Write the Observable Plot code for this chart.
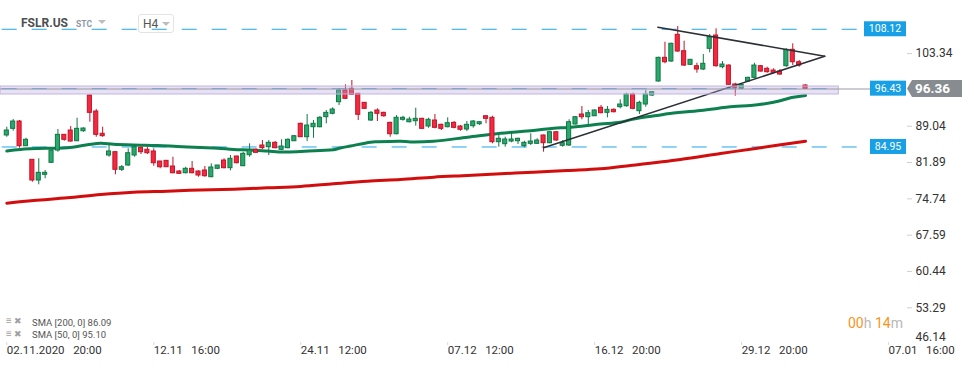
<!DOCTYPE html>
<html><head><meta charset="utf-8">
<script src="https://cdn.jsdelivr.net/npm/d3@7"></script>
<script src="https://cdn.jsdelivr.net/npm/@observablehq/plot@0.6"></script>
<style>
body{margin:0;background:#fff;font-family:Roboto,"Noto Sans",sans-serif;}
#wrap{position:relative;width:974px;height:368px;overflow:hidden;background:#fff;}
#chart svg{display:block;}
.ov{position:absolute;white-space:pre;line-height:1;}
.tri{position:absolute;width:0;height:0;border-left:4px solid transparent;border-right:4px solid transparent;border-top:4px solid #bdbdbd;}
</style></head><body>
<div id="wrap">
<div id="chart"></div>
<div class="ov" style="left:21px;top:17px;font-size:12px;font-weight:700;color:#4d4f52">FSLR.US</div>
<div class="ov" style="left:76px;top:19.5px;font-size:8.5px;font-weight:700;color:#8c98a4">STC</div>
<div class="tri" style="left:98px;top:20px"></div>
<div style="position:absolute;left:138px;top:14px;width:34px;height:17px;border:1px solid #e3e3e3;border-radius:3px;"></div>
<div class="ov" style="left:143px;top:17.5px;font-size:12px;color:#555">H4</div>
<div class="tri" style="left:162px;top:22px"></div>
<div class="ov" style="left:6px;top:316px;font-size:10px;color:#a0a0a0">≡ <span style="font-size:9px">✖</span></div>
<div class="ov" style="left:32px;top:317.5px;font-size:9.5px;color:#555">SMA [200, 0] 86.09</div>
<div class="ov" style="left:6px;top:329px;font-size:10px;color:#a0a0a0">≡ <span style="font-size:9px">✖</span></div>
<div class="ov" style="left:32px;top:330px;font-size:9.5px;color:#555">SMA [50, 0] 95.10</div>
<div class="ov" style="left:848px;top:316px;font-size:14px;"><span style="color:#f7941d">00</span><span style="color:#b8b8b8">h </span><span style="color:#f7941d">14</span><span style="color:#b8b8b8">m</span></div>
</div>
<script>
// ---- data ----
const candleOpen = [87.21,88.52,89.96,85.10,82.42,78.35,79.47,81.83,84.25,87.34,
88.19,86.08,88.05,95.08,91.93,87.54,83.27,83.92,80.45,81.30,
83.27,84.78,84.39,84.06,82.09,82.22,81.10,80.12,79.78,80.65,
80.12,80.32,79.00,80.65,82.28,80.77,83.07,81.16,83.33,84.39,
85.24,84.90,85.77,84.39,84.71,86.08,89.51,86.87,88.84,88.84,
90.81,91.48,93.76,96.06,96.40,95.41,93.64,90.16,92.13,91.67,
89.70,87.46,90.30,89.82,90.02,90.49,88.98,90.16,89.31,88.84,
89.70,88.98,88.39,89.04,89.43,91.00,90.69,85.89,85.49,86.02,
86.08,85.10,85.57,85.57,87.21,85.69,87.85,85.18,85.24,89.37,
91.34,90.81,91.00,92.66,91.67,92.26,92.78,92.97,95.28,91.99,
93.31,95.08,97.84,102.50,101.77,107.03,103.80,101.12,100.85,100.20,
104.27,106.89,100.65,100.98,97.25,96.40,97.84,98.56,100.85,100.34,
100.00,99.80,100.85,104.08,101.63,97.05];
const candleHigh = [88.84,90.35,90.16,86.67,82.48,82.62,80.32,84.39,88.39,87.40,
88.98,90.61,88.72,95.20,92.32,88.84,85.24,84.06,81.30,84.59,
85.24,84.90,84.90,84.59,82.09,82.28,82.93,80.32,80.96,82.09,
80.26,81.10,81.63,81.30,82.62,83.27,83.13,83.92,85.57,84.59,
86.22,86.22,86.02,86.36,86.56,87.21,89.63,91.34,90.16,90.95,
92.13,92.66,96.40,97.19,98.03,95.50,93.70,91.93,92.46,91.79,
89.82,91.14,91.00,90.81,92.58,90.61,90.61,91.34,89.43,90.69,
89.96,89.17,89.96,90.16,89.96,91.14,91.00,87.21,86.87,87.85,
86.67,86.08,87.54,86.56,87.30,88.05,87.99,86.22,90.30,90.95,
92.91,92.13,92.26,93.11,92.91,92.46,94.23,95.53,95.53,93.96,
96.06,95.87,102.62,105.57,105.37,108.66,105.77,102.17,101.44,103.15,
107.09,108.21,101.77,101.12,97.50,97.38,98.68,101.44,100.98,100.65,
100.34,100.20,104.27,105.26,101.97,97.20];
const candleLow = [86.87,88.05,84.71,85.04,78.01,77.50,78.68,81.75,83.92,86.08,
85.89,86.02,87.86,89.82,86.87,86.87,82.93,79.47,80.12,81.16,
82.93,83.47,83.47,81.16,80.65,80.91,79.66,79.53,79.66,79.66,
79.00,79.00,78.88,80.51,80.65,80.26,81.63,81.10,82.93,83.72,
84.45,83.27,84.59,84.25,84.59,86.02,86.81,86.02,86.67,88.72,
89.51,91.28,93.11,94.29,95.08,90.16,92.32,89.96,89.96,90.81,
86.87,87.34,90.02,89.70,89.04,88.39,88.64,88.52,88.19,88.72,
88.52,88.05,88.00,88.64,89.17,89.51,85.57,84.90,84.90,85.77,
85.44,84.78,85.24,85.44,83.92,85.57,86.08,84.90,85.04,89.31,
90.30,89.37,90.95,91.48,90.69,91.67,92.46,92.78,92.26,91.34,
92.78,94.88,97.70,101.32,101.63,103.60,100.79,100.98,99.47,100.00,
103.49,100.65,100.34,97.05,94.94,96.20,97.70,98.37,99.67,99.47,
99.35,99.08,100.65,100.98,100.65,96.30];
const candleClose = [88.19,89.96,85.10,86.36,78.35,79.86,79.86,84.25,87.34,86.36,
86.02,88.52,88.58,91.67,87.34,87.07,84.06,80.45,80.96,83.72,
84.90,83.92,83.72,81.75,80.96,80.96,79.78,79.66,80.65,79.78,
79.33,79.19,80.91,81.30,80.77,82.62,81.75,83.60,84.25,83.80,
84.71,85.77,84.71,85.04,86.36,87.07,86.87,89.17,89.51,90.69,
91.67,92.32,96.06,94.43,95.22,91.28,92.46,91.67,91.48,91.00,
87.46,90.69,90.69,90.35,90.49,88.52,90.30,88.72,88.52,89.63,
88.72,88.33,89.31,89.96,89.82,90.49,85.89,86.56,86.42,86.42,
86.56,85.77,86.02,86.22,85.69,87.85,86.22,85.69,89.82,90.81,
90.81,91.60,92.13,91.60,92.26,91.79,93.31,95.28,92.46,93.64,
95.28,95.73,102.50,101.63,105.26,103.74,100.98,102.11,100.20,101.32,
106.56,100.85,101.18,97.19,96.60,97.19,98.56,100.98,99.80,99.67,
99.55,99.21,104.08,101.63,100.98,96.36];

const sma50Idx = [0,2.1,6.8,9.5,12.6,14.7,16.7,19.8,23.6,26.7,30.3,33.0,35.5,38.1,40.8,43.3,46.0,49.1,51.1,52.2,53.8,56.9,58.0,61.6,63.2,66.8,72.1,77.3,82.4,85.6,87.7,90.9,92.9,96.0,98.1,102.3,103.4,108.6,113.7,116.4,120.0,123.1,125];
const sma50Val = [84.15,84.45,84.70,84.78,85.37,85.69,85.49,85.34,85.24,85.04,84.84,84.70,84.45,84.35,84.15,83.96,84.06,84.25,84.39,84.74,85.14,85.89,85.97,86.08,85.93,86.08,86.87,87.66,88.19,88.64,88.78,89.17,89.47,89.82,90.45,91.24,91.48,92.13,92.91,93.11,93.76,94.74,95.10];
const sma200Idx = [0,4.2,9.5,14.7,19.8,25.1,30.3,35.5,40.8,46.0,51.1,56.4,61.6,66.8,72.1,77.3,82.4,87.7,92.9,97.6,105.4,111.7,117.2,125];
const sma200Val = [73.88,74.41,74.94,75.59,76.04,76.24,76.48,76.64,76.91,77.17,77.70,78.21,78.54,79.00,79.33,79.67,79.98,80.32,80.65,81.30,82.48,83.66,84.65,86.09];

const levelValues = [108.12, 96.43, 84.95];
const levelEndIdx = [133.3, 130.2, 133.3];
const zoneLow = [95.28], zoneHigh = [96.85], zoneEndIdx = [130.2];
const lastPrice = [96.36];
const trendUpperIdx = [101.9, 128.0], trendUpperVal = [108.53, 102.82];
const trendLowerIdx = [84.0, 128.0], trendLowerVal = [84.79, 102.82];

const yTicks = [53.29, 60.44, 67.59, 74.74, 81.89, 89.04, 103.34];
const yBottomTick = [46.14];
const dateIdx = [0, 23, 46, 69, 92, 115, 138];
const dateLabels = ["02.11.2020  20:00","12.11  16:00","24.11  12:00","07.12  12:00","16.12  20:00","29.12  20:00","07.01  16:00"];

// ---- build ----
const candles = candleOpen.map((o,i)=>({i, o, h:candleHigh[i], l:candleLow[i], c:candleClose[i], up: candleClose[i] >= o}));
const sma50 = sma50Idx.map((x,k)=>({x, y:sma50Val[k]}));
const sma200 = sma200Idx.map((x,k)=>({x, y:sma200Val[k]}));
const trendU = trendUpperIdx.map((x,k)=>({x, y:trendUpperVal[k]}));
const trendL = trendLowerIdx.map((x,k)=>({x, y:trendLowerVal[k]}));
const xDomain = [-0.986, 140.8];
const GREEN_F="#2aa96c", GREEN_S="#0f7645", RED_F="#f6283f", RED_S="#bf1429";

function priceTags(index, scales, values, dims) {
  const g = d3.create("svg:g");
  const xr = dims.width - dims.marginRight;
  levelValues.forEach(v => {
    const t = v.toFixed(2);
    const w = t.length * 6 + 6;
    const yc = scales.y(v);
    g.append("rect").attr("x", xr - w).attr("y", yc - 7.5).attr("width", w).attr("height", 15).attr("fill", "#18a0e6");
    g.append("text").attr("x", xr - w/2).attr("y", yc).attr("dy", "0.35em").attr("text-anchor","middle")
      .attr("fill","#fff").attr("font-size", 10.5).attr("font-family","Roboto, sans-serif").text(t);
  });
  lastPrice.forEach(v => {
    const yc = scales.y(v);
    g.append("polygon").attr("points", `${xr+1},${yc} ${xr+6},${yc-8.5} ${xr+56},${yc-8.5} ${xr+56},${yc+8.5} ${xr+6},${yc+8.5}`).attr("fill","#868c90");
    g.append("text").attr("x", xr+9).attr("y", yc).attr("dy","0.36em").attr("text-anchor","start").attr("fill","#fff")
      .attr("font-size", 13.5).attr("font-weight", 700).attr("font-family","Roboto, sans-serif").text(v.toFixed(2));
  });
  return g.node();
}

const chart = Plot.plot({
  width: 974, height: 368,
  marginLeft: 0, marginRight: 68, marginTop: 0, marginBottom: 26,
  x: {domain: xDomain, range: [0, 906]},
  y: {domain: [46.14, 103.34], range: [343.6, 53.06]},
  style: {fontFamily: "Roboto, sans-serif", fontSize: "12px", color: "#333", background: "#fff"},
  marks: [
    Plot.ruleY(levelValues, {y: d=>d, x1: xDomain[0], x2: (d,k)=>levelEndIdx[k], stroke: "#22a6ee", strokeDasharray: "15,15", strokeDashoffset: -1.7}),
    Plot.line(sma200, {x:"x", y:"y", stroke:"#d10d0d", strokeWidth:3, curve:"catmull-rom"}),
    Plot.line(sma50, {x:"x", y:"y", stroke:"#0d8050", strokeWidth:3, curve:"catmull-rom"}),
    Plot.ruleX(candles, {x:"i", y1:"l", y2:"h", stroke: d=>d.up?GREEN_S:RED_S, strokeWidth:1}),
    Plot.rect(candles, {x1: d=>d.i-0.32, x2: d=>d.i+0.32, y1:"o", y2:"c", fill: d=>d.up?GREEN_F:RED_F, stroke: d=>d.up?GREEN_S:RED_S, strokeWidth:1}),
    Plot.line(trendU, {x:"x", y:"y", stroke:"#2b3036", strokeWidth:1.6}),
    Plot.line(trendL, {x:"x", y:"y", stroke:"#2b3036", strokeWidth:1.6}),
    Plot.rect(zoneLow, {x1: xDomain[0], x2: (d,k)=>zoneEndIdx[k], y1: d=>d, y2: (d,k)=>zoneHigh[k], fill:"#b9a9dd", fillOpacity:0.35, stroke:"#c2b6e2", strokeWidth:1}),
    Plot.ruleY(lastPrice, {y: d=>d, stroke:"#9a9aa4", strokeWidth:1}),
    Plot.axisY({anchor:"right", ticks: yTicks, tickSize:5, tickPadding:4, tickFormat: d=>d.toFixed(2), stroke:"#d0d0d0", fill:"#333", fontSize:12, label:null}),
    Plot.text(yBottomTick, {y: d=>d, text: d=>d.toFixed(2), frameAnchor:"right", dx:9, dy:-7, textAnchor:"start", fill:"#333", fontSize:12}),
    Plot.axisX({ticks: dateIdx, tickSize:3, tickFormat: ()=>"", stroke:"#d8d8d8", label:null}),
    Plot.text(dateIdx, {x: d=>d, text: (d,k)=>dateLabels[k].replace(/  /g, "\u00a0\u00a0\u00a0"), frameAnchor:"bottom", dy:11, textAnchor:"start", fill:"#333", fontSize:11.5}),
    priceTags
  ]
});
document.getElementById("chart").appendChild(chart);
</script>
</body></html>
